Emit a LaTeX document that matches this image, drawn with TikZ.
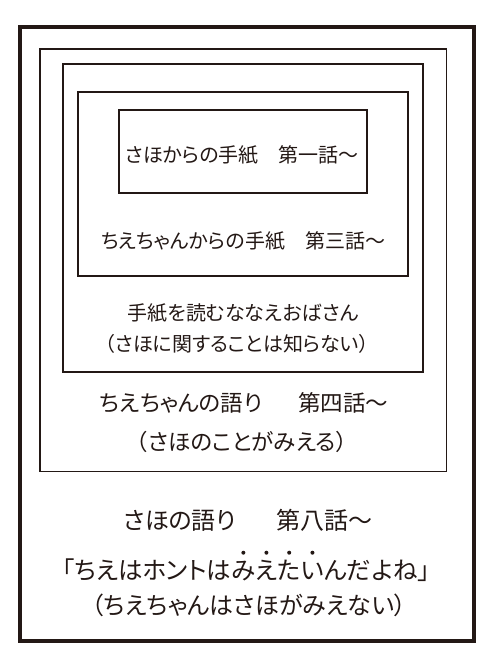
\documentclass[tikz,border=0pt]{standalone}
\usepackage{fontspec}
\newfontfamily\jp[RawFeature=+palt]{Noto Sans CJK JP}
\newfontfamily\jpfw{Noto Sans CJK JP}
\definecolor{ink}{HTML}{231815}
\newcommand\bt[1]{\leavevmode\setbox0\hbox{#1}\rlap{\hbox to\wd0{\hss\raisebox{1.0em}{\tikz\fill[ink] (0,0) circle (2pt);}\hss}}\box0}
\newcommand\fw[1]{{\jpfw #1}}
\tikzset{
  frame/.style={draw=ink,line width=1.8pt},
  outerframe/.style={draw=ink,line width=4pt},
  lblS/.style={text=ink,inner sep=0pt,font=\jp\fontsize{20}{24}\selectfont},
  lblM/.style={text=ink,inner sep=0pt,font=\jp\fontsize{22.5}{27}\selectfont},
  lblL/.style={text=ink,inner sep=0pt,font=\jp\fontsize{24}{28}\selectfont}
}
\begin{document}
\begin{tikzpicture}[x=1pt,y=-1pt]
\useasboundingbox (0,0) rectangle (496,665);
% nested frames
\draw[outerframe] (20,27) rectangle (474,641);
\draw[frame] (40,49) rectangle (446.5,471.5);
\draw[frame] (63,64) rectangle (423,372);
\draw[frame] (78.3,92) rectangle (408,276);
\draw[frame] (119.3,110) rectangle (367,193);
% texts
\node[lblS] (t1) at (242,155) {さほからの手紙　第一話〜};
\node[lblS] (t2) at (243,241) {ちえちゃんからの手紙　第三話〜};
\node[lblS] (t3) at (243,313) {手紙を読むななえおばさん};
\node[lblS] (t4) at (237,344) {\fw{（}さほに関することは知らない\fw{）}};
\node[lblM] (t5) at (244,403) {ちえちゃんの語り\hspace{1.6em}第四話〜};
\node[lblM] (t6) at (242,442) {\fw{（}さほのことがみえる\fw{）}};
\node[lblL] (t7) at (248,520) {さほの語り\hspace{1.7em}第八話〜};
\node[lblL,font=\jp\fontsize{24.5}{28}\selectfont] (t8) at (246,566) {「ちえはホントは\bt{み}\bt{え}\bt{た}\bt{い}んだよね」};
\node[lblL] (t9) at (249,605) {（ちえちゃんはさほがみえない）};
\end{tikzpicture}
\end{document}
